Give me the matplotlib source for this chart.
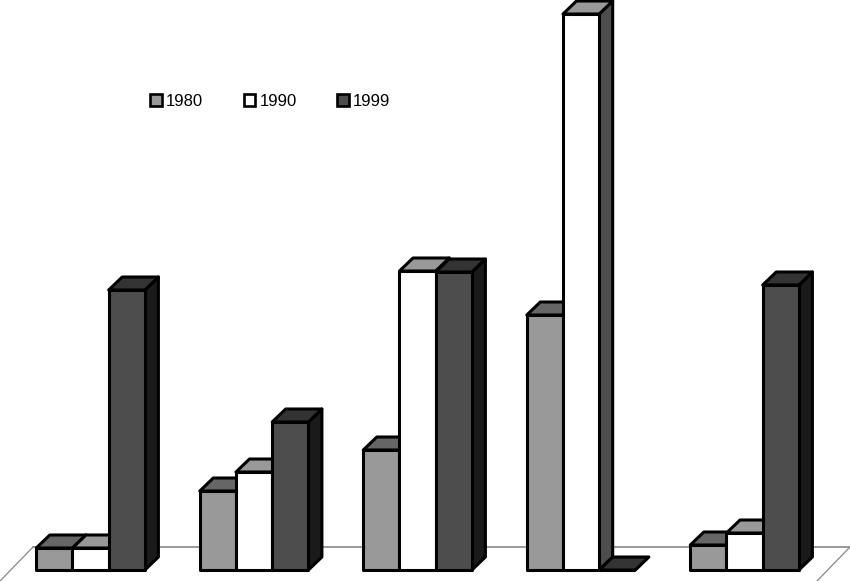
import matplotlib
matplotlib.use("Agg")
import matplotlib.pyplot as plt
from matplotlib.patches import Polygon, Rectangle

plt.rcParams['font.family'] = ['Liberation Sans', 'DejaVu Sans']

years = ['1980', '1990', '1999']
values_1980 = [22, 79, 120, 255, 25]
values_1990 = [22, 98, 299, 556, 37]
values_1999 = [280, 148, 298, 0, 285]
series = [values_1980, values_1990, values_1999]

front_colors = ['#999999', '#ffffff', '#4d4d4d']
top_colors = ['#666666', '#999999', '#333333']
side_colors = ['#333333', '#4d4d4d', '#1a1a1a']

W, H = 850, 581
BASE = 570
fig = plt.figure(figsize=(W / 100, H / 100), dpi=100)
ax = fig.add_axes([0, 0, 1, 1])
ax.set_xlim(0, W)
ax.set_ylim(-(H - BASE), BASE)   # y = value, 0 at the front baseline
ax.axis('off')

GROUP_X0, GROUP_STEP, BAR_W = 36.3, 163.5, 36.2
DX, DY = 13.5, 13
LW = 2.2

# floor
floor_y = DY + 10
ax.plot([33, 850], [floor_y, floor_y], color='#999999', lw=1.4, zorder=1)
ax.plot([33, 0], [floor_y, -11], color='#888888', lw=0.9, zorder=1)
ax.plot([850, 817], [floor_y, -11], color='#888888', lw=0.9, zorder=1)

z = 2
for g in range(len(values_1980)):
    for s, vals in enumerate(series):
        v = vals[g]
        x0 = GROUP_X0 + GROUP_STEP * g + BAR_W * s
        x1 = x0 + BAR_W
        edge = dict(edgecolor='black', linewidth=LW, joinstyle='round')
        if v > 0:
            ax.add_patch(Polygon([(x1, 0), (x1 + DX, DY), (x1 + DX, v + DY), (x1, v)],
                                 facecolor=side_colors[s], zorder=z, **edge))
        ax.add_patch(Polygon([(x0, v), (x0 + DX, v + DY), (x1 + DX, v + DY), (x1, v)],
                             facecolor=top_colors[s], zorder=z, **edge))
        ax.bar(x0, v, width=BAR_W, align='edge', color=front_colors[s],
               zorder=z + 1, **edge)
        z += 2

# legend
legend_x = [150.5, 244, 337.5]
for x, c, label in zip(legend_x, front_colors, years):
    ax.add_patch(Rectangle((x, BASE - 105.5), 11.5, 11.5, facecolor=c,
                           edgecolor='black', linewidth=1.9, zorder=z))
    ax.text(x + 15.5, BASE - 101, label, fontsize=12, color='black',
            va='center', ha='left', zorder=z)

fig.savefig('out.png', dpi=100)
